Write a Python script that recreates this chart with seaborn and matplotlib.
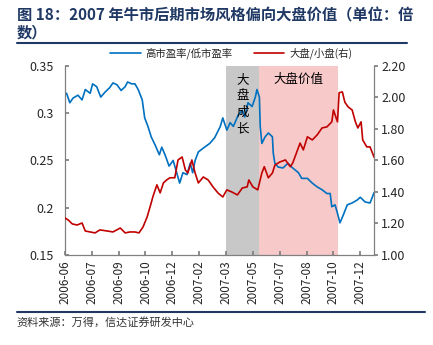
import numpy as np
import pandas as pd
import matplotlib
matplotlib.use("Agg")
import matplotlib.pyplot as plt
from matplotlib.lines import Line2D
import seaborn as sns

# ---------------- data (trading-day index) -------------
pe_days = [0, 2, 6, 10, 16, 21, 25, 31, 34, 39, 44, 49, 55, 59, 64, 69, 74, 77, 82, 86,
           90, 95, 98, 102, 106, 111, 116, 119, 123, 128, 133, 138, 141, 145, 150, 154,
           157, 160, 164, 170, 178, 184, 191, 194, 199, 203, 207, 213, 218, 221, 225,
           230, 234, 236, 239, 240, 242, 246, 250, 255, 256, 258, 262, 268, 274, 280,
           287, 291, 298, 304, 310, 316, 322, 326, 328, 332, 335, 338, 342, 347, 353,
           359, 363, 369, 375, 380]
pe_ratio = [0.319, 0.321, 0.311, 0.316, 0.319, 0.314, 0.325, 0.321, 0.331, 0.328, 0.317,
            0.322, 0.327, 0.332, 0.330, 0.324, 0.328, 0.333, 0.331, 0.331, 0.325, 0.314,
            0.295, 0.286, 0.275, 0.266, 0.256, 0.264, 0.256, 0.244, 0.250, 0.235, 0.226,
            0.237, 0.235, 0.247, 0.237, 0.250, 0.259, 0.263, 0.268, 0.274, 0.286, 0.295,
            0.282, 0.290, 0.286, 0.298, 0.303, 0.296, 0.311, 0.307, 0.317, 0.325, 0.317,
            0.286, 0.268, 0.275, 0.279, 0.275, 0.258, 0.247, 0.243, 0.242, 0.247, 0.242,
            0.237, 0.231, 0.231, 0.226, 0.222, 0.219, 0.215, 0.215, 0.201, 0.203, 0.194,
            0.184, 0.192, 0.203, 0.205, 0.208, 0.211, 0.206, 0.205, 0.216]

size_days = [0, 4, 9, 15, 21, 25, 31, 37, 43, 52, 59, 68, 74, 80, 86, 91, 96, 101, 106,
             108, 113, 117, 121, 125, 129, 135, 139, 144, 148, 151, 156, 160, 164, 170,
             176, 182, 188, 194, 199, 205, 212, 218, 224, 226, 231, 237, 242, 245, 250,
             255, 258, 264, 271, 277, 280, 285, 289, 293, 298, 304, 310, 316, 322, 328,
             330, 335, 337, 341, 344, 348, 353, 357, 360, 364, 366, 371, 375, 380]
size_ratio = [1.235, 1.222, 1.197, 1.190, 1.203, 1.152, 1.146, 1.140, 1.159, 1.152, 1.146,
              1.171, 1.140, 1.146, 1.146, 1.140, 1.178, 1.241, 1.330, 1.368, 1.445, 1.394,
              1.457, 1.476, 1.490, 1.490, 1.603, 1.622, 1.540, 1.520, 1.603, 1.520, 1.457,
              1.495, 1.476, 1.432, 1.394, 1.368, 1.413, 1.400, 1.381, 1.425, 1.432, 1.476,
              1.432, 1.413, 1.520, 1.560, 1.490, 1.520, 1.570, 1.590, 1.603, 1.560, 1.584,
              1.654, 1.710, 1.667, 1.750, 1.730, 1.762, 1.806, 1.813, 1.845, 1.920, 1.845,
              2.030, 2.035, 1.970, 1.940, 1.920, 1.845, 1.806, 1.845, 1.730, 1.686, 1.686,
              1.620]

tick_labels = ["2006-06", "2006-07", "2006-09", "2006-10", "2006-12", "2007-02",
               "2007-03", "2007-05", "2007-07", "2007-08", "2007-10", "2007-12"]
tick_step = 33
n_days = 380

growth_span = (198, 238.5)   # 大盘成长
value_span = (238.5, 336)    # 大盘价值

pe_label = "高市盈率/低市盈率"
size_label = "大盘/小盘(右)"

# ---------------- style ----------------
sns.set_theme(style="white")
plt.rcParams['font.family'] = ['Noto Sans CJK SC', 'DejaVu Sans']
plt.rcParams['axes.unicode_minus'] = False

BLUE = "#0070C0"
RED = "#C00000"
NAVY = "#1F3864"
SPINE = "#808080"

df_pe = pd.DataFrame({"day": pe_days, "value": pe_ratio})
df_size = pd.DataFrame({"day": size_days, "value": size_ratio})

fig = plt.figure(figsize=(4.33, 3.45), dpi=100)
ax = fig.add_axes([0.150, 0.261, 0.714, 0.548])
ax2 = ax.twinx()

ax.axvspan(*growth_span, color="#C8C8C8", lw=0, zorder=0)
ax.axvspan(*value_span, color="#F8C9C9", lw=0, zorder=0)

sns.lineplot(data=df_pe, x="day", y="value", ax=ax, color=BLUE, lw=1.2,
             label=pe_label, legend=False)
sns.lineplot(data=df_size, x="day", y="value", ax=ax2, color=RED, lw=1.2,
             label=size_label, legend=False)

ax.set_xlim(0, n_days)
ax.set_ylim(0.15, 0.35)
ax2.set_ylim(1.0, 2.2)
ax.set_xlabel("")
ax.set_ylabel("")
ax2.set_ylabel("")

ax.set_xticks(np.arange(len(tick_labels)) * tick_step)
ax.set_xticklabels(tick_labels, rotation=90, fontsize=8.5)
ax.set_yticks([0.15, 0.2, 0.25, 0.3, 0.35])
ax.set_yticklabels(["0.15", "0.2", "0.25", "0.3", "0.35"], fontsize=9)
ax2.set_yticks([1.0, 1.2, 1.4, 1.6, 1.8, 2.0, 2.2])
ax2.set_yticklabels(["1.00", "1.20", "1.40", "1.60", "1.80", "2.00", "2.20"], fontsize=9)

for a in (ax, ax2):
    for s in a.spines.values():
        s.set_visible(False)
    a.grid(False)
ax.spines["left"].set_visible(True)
ax.spines["bottom"].set_visible(True)
ax2.spines["right"].set_visible(True)
for s in (ax.spines["left"], ax.spines["bottom"], ax2.spines["right"]):
    s.set_color(SPINE)
    s.set_linewidth(0.9)

ax.tick_params(axis="y", direction="in", length=3, color=SPINE, pad=8, left=True)
ax.tick_params(axis="x", direction="in", length=3, color=SPINE, pad=4, bottom=True)
ax2.tick_params(axis="y", direction="out", length=3, color=SPINE, pad=2, right=True)
ax.patch.set_visible(False)
ax.set_zorder(ax2.get_zorder() - 1) if False else None

# region labels
gx = (growth_span[0] + growth_span[1]) / 2
for i, ch in enumerate("大盘成长"):
    ax.text(gx, 0.336 - i * 0.0175, ch, ha="center", va="center", fontsize=9,
            color="black")
vx = (value_span[0] + value_span[1]) / 2
ax.text(vx, 0.336, "大盘价值", ha="center", va="center", fontsize=9, color="black")

# legend
handles = [Line2D([0], [0], color=BLUE, lw=1.2), Line2D([0], [0], color=RED, lw=1.2)]
fig.legend(handles, [pe_label, size_label], loc="center", bbox_to_anchor=(0.534, 0.846),
           ncol=2, frameon=False, fontsize=7.5, handlelength=2.9, columnspacing=2.0,
           handletextpad=0.5)

# title and frame lines
fig.text(0.039, 0.9565, "图 18：2007 年牛市后期市场风格偏向大盘价值（单位：倍",
         fontsize=11, fontweight="bold", color=NAVY, ha="left", va="center")
fig.text(0.039, 0.907, "数）", fontsize=11, fontweight="bold", color=NAVY,
         ha="left", va="center")
fig.add_artist(Line2D([0.039, 0.940], [0.875, 0.875], color=NAVY, lw=1.5,
                      transform=fig.transFigure))
fig.add_artist(Line2D([0.039, 0.982], [0.0957, 0.0957], color=NAVY, lw=1.5,
                      transform=fig.transFigure))
fig.text(0.039, 0.067, "资料来源：万得，信达证券研发中心", fontsize=8, color="#333333",
         ha="left", va="center", style="italic")

fig.savefig("out.png", dpi=100)
